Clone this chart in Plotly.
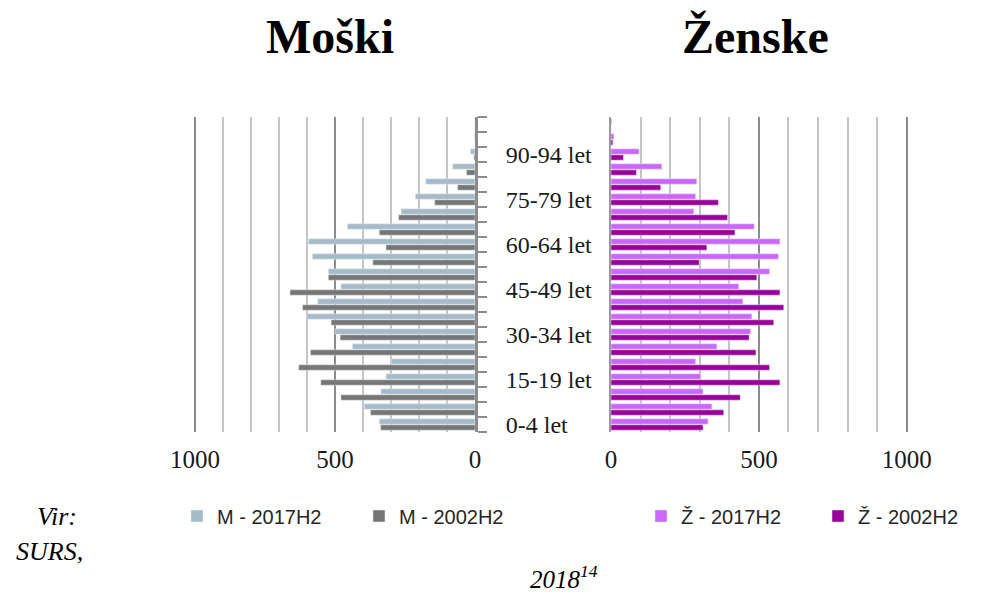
import plotly.graph_objects as go

categories = ["0-4 let", "5-9 let", "10-14 let", "15-19 let", "20-24 let", "25-29 let",
              "30-34 let", "35-39 let", "40-44 let", "45-49 let", "50-54 let", "55-59 let",
              "60-64 let", "65-69 let", "70-74 let", "75-79 let", "80-84 let", "85-89 let",
              "90-94 let", "95-99 let", "100+ let"]
shown_labels = ["0-4 let", "15-19 let", "30-34 let", "45-49 let", "60-64 let", "75-79 let", "90-94 let"]

m_2017 = [342, 396, 336, 318, 298, 438, 500, 601, 562, 479, 524, 581, 595, 456, 264, 213, 176, 80, 16, 2, 0]
m_2002 = [337, 373, 479, 551, 630, 588, 482, 514, 616, 661, 524, 365, 318, 342, 273, 144, 62, 30, 4, 0, 0]
z_2017 = [328, 341, 311, 303, 286, 358, 472, 476, 446, 432, 536, 566, 571, 484, 280, 286, 290, 172, 95, 10, 3]
z_2002 = [311, 381, 437, 571, 536, 490, 467, 550, 584, 571, 493, 298, 324, 419, 394, 363, 168, 86, 42, 6, 0]

x_ticks = [0, 500, 1000]

C_M17 = "#A5BCC8"
C_M02 = "#767676"
C_Z17 = "#CC66FF"
C_Z02 = "#990099"

# page body has an 8px margin: figure drawn 8px right/down
OFF = 8
W, H = 989 - OFF, 593 - OFF
def px(x):
    return (x - OFF) / W
def py(y):
    return 1 - (y - OFF) / H

fig = go.Figure()
# 2002 added first so it sits below 2017 within each category
fig.add_trace(go.Bar(y=categories, x=m_2002, orientation="h", name="M - 2002H2",
                     marker_color=C_M02, xaxis="x", yaxis="y", legend="legend", legendrank=2))
fig.add_trace(go.Bar(y=categories, x=m_2017, orientation="h", name="M - 2017H2",
                     marker_color=C_M17, xaxis="x", yaxis="y", legend="legend", legendrank=1))
fig.add_trace(go.Bar(y=categories, x=z_2002, orientation="h", name="Ž - 2002H2",
                     marker_color=C_Z02, xaxis="x2", yaxis="y2", legend="legend2", legendrank=2))
fig.add_trace(go.Bar(y=categories, x=z_2017, orientation="h", name="Ž - 2017H2",
                     marker_color=C_Z17, xaxis="x2", yaxis="y2", legend="legend2", legendrank=1))

serif = "Liberation Serif, Times New Roman, serif"
sans = "Liberation Sans, Arial, sans-serif"

xcommon = dict(
    tickvals=x_ticks, ticktext=[str(v) for v in x_ticks],
    showgrid=True, gridcolor="#8C8C8C", gridwidth=2,
    minor=dict(dtick=100, tick0=0, showgrid=True, gridcolor="#C4C4C4", gridwidth=2),
    zeroline=False, showline=False, ticks="",
    tickfont=dict(family=serif, size=25, color="#1a1a1a"),
    ticklabelstandoff=10, fixedrange=True, automargin=False,
)
y_top, y_bot = 117, 432

fig.update_layout(
    width=W, height=H,
    margin=dict(l=0, r=0, t=0, b=0, autoexpand=False),
    paper_bgcolor="white", plot_bgcolor="rgba(0,0,0,0)",
    barmode="group", bargap=0.2, bargroupgap=0.1,
    xaxis=dict(domain=[px(194), px(475)], range=[1004, 0], anchor="y", **xcommon),
    xaxis2=dict(domain=[px(611), px(908)], range=[0, 1004], anchor="y2", **xcommon),
    yaxis=dict(domain=[py(y_bot), py(y_top)], anchor="x", side="right",
               type="category", categoryorder="array", categoryarray=categories,
               tickmode="array", tickvals=categories,
               ticktext=[c if c in shown_labels else "" for c in categories],
               tickson="boundaries", ticks="outside", ticklen=9, tickwidth=2, tickcolor="#8C8C8C",
               showline=True, linecolor="#8C8C8C", linewidth=3, showgrid=False, zeroline=False,
               tickfont=dict(family=serif, size=24, color="#1a1a1a"), ticklabelstandoff=23,
               fixedrange=True, automargin=False),
    yaxis2=dict(domain=[py(y_bot), py(y_top)], anchor="x2", matches="y",
                type="category", categoryorder="array", categoryarray=categories,
                showticklabels=False, ticks="", showline=True, linecolor="#9A9A9A", linewidth=2,
                showgrid=False, zeroline=False, fixedrange=True, automargin=False),
    legend=dict(orientation="h", x=px(177), y=py(516), xanchor="left", yanchor="middle",
                entrywidth=137, entrywidthmode="pixels", traceorder="normal",
                font=dict(family=sans, size=20, color="#262626"), bgcolor="rgba(0,0,0,0)",
                itemclick=False, itemdoubleclick=False),
    legend2=dict(orientation="h", x=px(641), y=py(516), xanchor="left", yanchor="middle",
                 entrywidth=132, entrywidthmode="pixels", traceorder="normal",
                 font=dict(family=sans, size=20, color="#262626"), bgcolor="rgba(0,0,0,0)",
                 itemclick=False, itemdoubleclick=False),
    showlegend=True,
)

annotations = [
    dict(text="<b>Moški</b>", x=px(330), y=py(36), font=dict(family=serif, size=48, color="black")),
    dict(text="<b>Ženske</b>", x=px(755), y=py(36), font=dict(family=serif, size=48, color="black")),
    dict(text="<i>Vir:</i>", x=px(57), y=py(516), font=dict(family=serif, size=26, color="black")),
    dict(text="<i>SURS,</i>", x=px(49), y=py(551), font=dict(family=serif, size=26, color="black")),
    dict(text="<i>2018<sup>14</sup></i>", x=px(564), y=py(577), font=dict(family=serif, size=25, color="black")),
]
for a in annotations:
    a.update(xref="paper", yref="paper", showarrow=False, xanchor="center", yanchor="middle")
fig.update_layout(annotations=annotations)

fig.write_html("out.html")
